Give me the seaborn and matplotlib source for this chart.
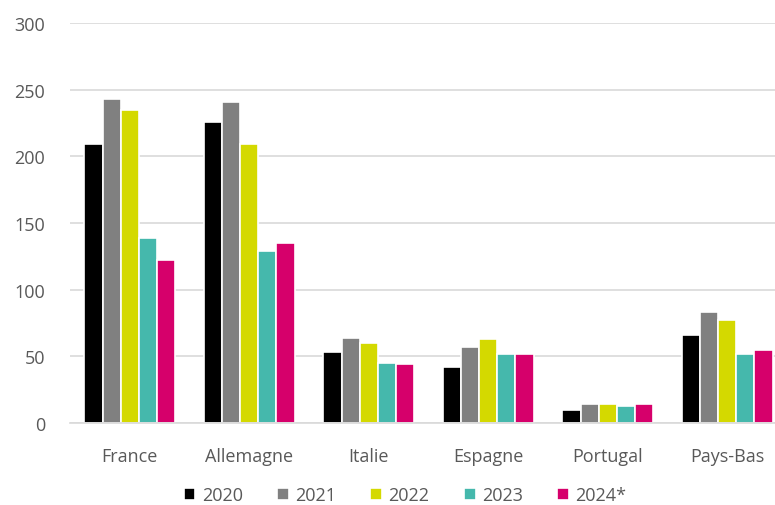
import pandas as pd
import matplotlib.pyplot as plt
import seaborn as sns

# valeurs
pays = ["France", "Allemagne", "Italie", "Espagne", "Portugal", "Pays-Bas"]
annees = ["2020", "2021", "2022", "2023", "2024*"]
v2020 = [209, 226, 53, 42, 10, 66]
v2021 = [243, 241, 64, 57, 14, 83]
v2022 = [235, 209, 60, 63, 14, 77]
v2023 = [139, 129, 45, 52, 13, 52]
v2024 = [122, 135, 44, 52, 14, 55]
couleurs = ["#000000", "#808080", "#d4d900", "#45b8ac", "#d6006b"]

rows = []
for an, vals in zip(annees, [v2020, v2021, v2022, v2023, v2024]):
    for p, v in zip(pays, vals):
        rows.append({"pays": p, "annee": an, "valeur": v})
df = pd.DataFrame(rows)

sns.set_style("white")
plt.rcParams['font.family'] = ['Open Sans', 'DejaVu Sans']

fig = plt.figure(figsize=(7.75, 5.06), dpi=100)
ax = fig.add_axes([70 / 775, 82 / 506, 717 / 775, 400 / 506])

sns.barplot(data=df, x="pays", y="valeur", hue="annee", order=pays, hue_order=annees,
            palette=couleurs, saturation=1, width=0.76, edgecolor="white", linewidth=1.2, ax=ax)

ax.set_ylim(0, 300)
ax.set_xlim(-0.5, 5.5)
ax.set_yticks(range(0, 301, 50))
ax.yaxis.grid(True, color="#d9d9d9", linewidth=1.2)
ax.set_axisbelow(True)
for s in ["top", "right", "left"]:
    ax.spines[s].set_visible(False)
ax.spines["bottom"].set_color("#d9d9d9")
ax.spines["bottom"].set_linewidth(1.2)
ax.tick_params(axis="both", length=0, labelsize=13, labelcolor="#595959")
ax.tick_params(axis="x", pad=17)
ax.tick_params(axis="y", pad=18)
ax.set_xlabel("")
ax.set_ylabel("")

ax.legend(loc="lower center", bbox_to_anchor=(405 / 775, -0.03), bbox_transform=fig.transFigure,
          ncol=5, frameon=False, fontsize=13, handlelength=0.65, handleheight=0.65,
          handletextpad=0.35, columnspacing=1.9, labelcolor="#595959")

plt.savefig("out.png", dpi=100)
